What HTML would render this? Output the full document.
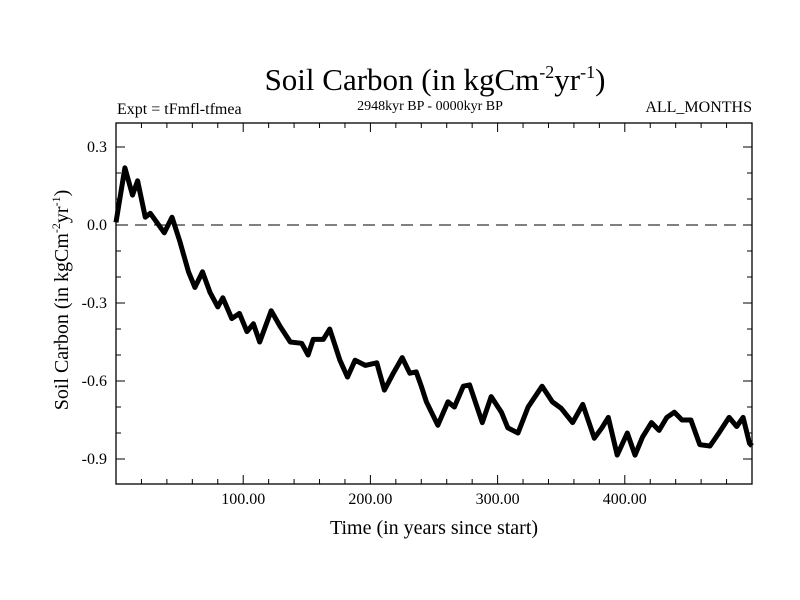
<!DOCTYPE html>
<html><head><meta charset="utf-8"><style>body{margin:0;background:#fff}svg{display:block}text{font-family:"Liberation Serif",serif;fill:#000}</style></head>
<body>
<svg id="chart" width="800" height="600" viewBox="0 0 800 600">
<text x="435" y="90" font-size="31" text-anchor="middle">Soil Carbon (in kgCm<tspan font-size="18" dy="-12">-2</tspan><tspan dy="12">yr</tspan><tspan font-size="18" dy="-12">-1</tspan><tspan dy="12">)</tspan></text>
<text x="117" y="114" font-size="16">Expt = tFmfl-tfmea</text>
<text x="430" y="110" font-size="14" text-anchor="middle">2948kyr BP - 0000kyr BP</text>
<text x="752" y="112" font-size="16" text-anchor="end">ALL_MONTHS</text>
<text transform="translate(68,300) rotate(-90)" font-size="20" text-anchor="middle">Soil Carbon (in kgCm<tspan font-size="12" dy="-8">-2</tspan><tspan dy="8">yr</tspan><tspan font-size="12" dy="-8">-1</tspan><tspan dy="8">)</tspan></text>
<text x="434" y="534" font-size="20" text-anchor="middle">Time (in years since start)</text>
<g id="plot"></g>
</svg>
<script>
const years = [0,7,13,17,23,27,38,44,50,57,62,68,74,80,84,91,97,103,108,113,122,129,137,146,151,155,163,168,176,182,188,196,205,211,218,225,231,236,240,244,253,261,266,273,278,288,295,303,308,316,324,335,343,350,359,367,376,382,387,394,402,408,414,421,427,433,439,445,452,459,467,474,482,488,493,498,500];
const values = [0.01,0.22,0.115,0.17,0.03,0.045,-0.03,0.03,-0.06,-0.18,-0.24,-0.18,-0.26,-0.315,-0.28,-0.36,-0.34,-0.41,-0.38,-0.45,-0.33,-0.39,-0.45,-0.455,-0.5,-0.44,-0.44,-0.4,-0.52,-0.585,-0.52,-0.54,-0.53,-0.635,-0.57,-0.51,-0.57,-0.565,-0.62,-0.68,-0.77,-0.68,-0.7,-0.62,-0.615,-0.76,-0.66,-0.72,-0.78,-0.8,-0.7,-0.62,-0.68,-0.705,-0.76,-0.69,-0.82,-0.78,-0.74,-0.885,-0.8,-0.885,-0.815,-0.76,-0.79,-0.74,-0.72,-0.75,-0.75,-0.845,-0.85,-0.8,-0.74,-0.775,-0.74,-0.84,-0.85];
const xTicks = [100,200,300,400];
const xTickLabels = ["100.00","200.00","300.00","400.00"];
const yTicks = [0.3,0,-0.3,-0.6,-0.9];
const yTickLabels = ["0.3","0.0","-0.3","-0.6","-0.9"];
const L=116,R=752,T=123,B=484,XMIN=0,XMAX=500;
const xs=v=>L+(v-XMIN)/(XMAX-XMIN)*(R-L);
const ys=v=>225-v/0.3*78;
const NS="http://www.w3.org/2000/svg";
const g=document.getElementById('plot');
function mk(t,a){const e=document.createElementNS(NS,t);for(const k in a)e.setAttribute(k,a[k]);g.appendChild(e);return e;}
let z=mk('line',{x1:L,x2:R,y1:ys(0),y2:ys(0),stroke:'#000','stroke-width':1,'stroke-dasharray':'12,7'});


let fr=mk('rect',{x:L,y:T,width:R-L,height:B-T,fill:'none',stroke:'#000','stroke-width':1.3});


for(let v=20;v<XMAX;v+=20){const maj=v%100===0;const len=maj?9:5;const x=xs(v);
 mk('line',{x1:x,x2:x,y1:B,y2:B-len,stroke:'#000'});mk('line',{x1:x,x2:x,y1:T,y2:T+len,stroke:'#000'});}
for(let k=-9;k<=3;k++){const v=k/10;const maj=k%3===0;const len=maj?9:5;const y=ys(v);
 mk('line',{x1:L,x2:L+len,y1:y,y2:y,stroke:'#000'});mk('line',{x1:R,x2:R-len,y1:y,y2:y,stroke:'#000'});}
xTicks.forEach((v,i)=>{const t=mk('text',{x:xs(v),y:B+20,'font-size':16,'text-anchor':'middle'});t.textContent=xTickLabels[i];
 
 });
yTicks.forEach((v,i)=>{const t=mk('text',{x:L-9,y:ys(v)+5,'font-size':16,'text-anchor':'end'});t.textContent=yTickLabels[i];
 
 });
let d=years.map((t,i)=>(i?'L':'M')+xs(t).toFixed(1)+','+ys(values[i]).toFixed(1)).join('');
let p=mk('path',{d:d,fill:'none',stroke:'#000','stroke-width':5,'stroke-linejoin':'round'});


</script>
</body></html>
